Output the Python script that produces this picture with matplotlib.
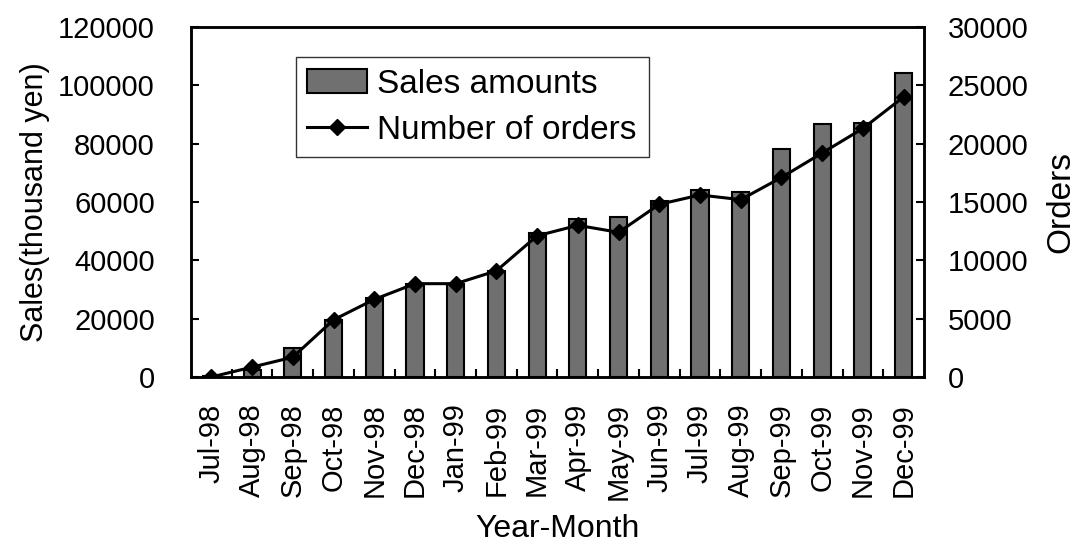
import matplotlib
matplotlib.use("Agg")
import matplotlib.pyplot as plt
import numpy as np

plt.rcParams['font.family'] = ['Liberation Sans', 'DejaVu Sans']

# === Données ===
mois = ["Jul-98", "Aug-98", "Sep-98", "Oct-98", "Nov-98", "Dec-98",
        "Jan-99", "Feb-99", "Mar-99", "Apr-99", "May-99", "Jun-99",
        "Jul-99", "Aug-99", "Sep-99", "Oct-99", "Nov-99", "Dec-99"]
ventes = [300, 2500, 10000, 19500, 27000, 32000,
          32000, 36400, 49400, 54000, 54900, 60500,
          64000, 63500, 78000, 86700, 87000, 104300]
commandes = [0, 850, 1700, 4900, 6650, 8000,
             8000, 9100, 12100, 13000, 12400, 14800,
             15600, 15200, 17100, 19200, 21300, 24000]

x = np.arange(len(mois))

fig = plt.figure(figsize=(10.76, 5.5), dpi=100)
ax = fig.add_axes([0.1775, 0.3145, 0.6812, 0.6365])
ax2 = ax.twinx()

# === Barres (ventes) ===
barres = ax.bar(x, ventes, width=0.42, color="#707070", edgecolor="black",
                linewidth=1.5, label="Sales amounts", zorder=2)

# === Courbe (commandes) ===
ligne, = ax2.plot(x, commandes, color="black", linewidth=2.2, marker="D",
                  markersize=8, markerfacecolor="black", label="Number of orders")

ax.set_xlim(-0.5, len(mois) - 0.5)
ax.set_ylim(0, 120000)
ax2.set_ylim(0, 30000)
ax.set_yticks(np.arange(0, 120001, 20000))
ax2.set_yticks(np.arange(0, 30001, 5000))

ax.set_xticks(x)
ax.set_xticklabels(mois, rotation=90, fontsize=21)
ax.tick_params(axis="x", which="major", length=0, pad=19)
ax.set_xticks(x[:-1] + 0.5, minor=True)
ax.tick_params(axis="x", which="minor", direction="in", length=6, width=1.5)
ax.tick_params(axis="y", direction="in", length=6, width=1.5, labelsize=21, pad=26)
ax2.tick_params(axis="y", direction="in", length=6, width=1.5, labelsize=21, pad=17)

for a in (ax, ax2):
    for s in a.spines.values():
        s.set_linewidth(1.8)

ax.set_ylabel("Sales(thousand yen)", fontsize=22, labelpad=6)
ax2.set_ylabel("Orders", fontsize=24, labelpad=12)
ax.set_xlabel("Year-Month", fontsize=23, labelpad=10)

leg = ax2.legend([barres, ligne], ["Sales amounts", "Number of orders"],
                 loc="upper left", bbox_to_anchor=(0.143, 0.914), fontsize=24,
                 frameon=True, fancybox=False, handlelength=1.8, handleheight=0.7,
                 borderaxespad=0, borderpad=0.35, labelspacing=0.45, handletextpad=0.3)
leg.get_frame().set_edgecolor("black")
leg.get_frame().set_linewidth(1.0)

fig.savefig("out.png", dpi=100)
